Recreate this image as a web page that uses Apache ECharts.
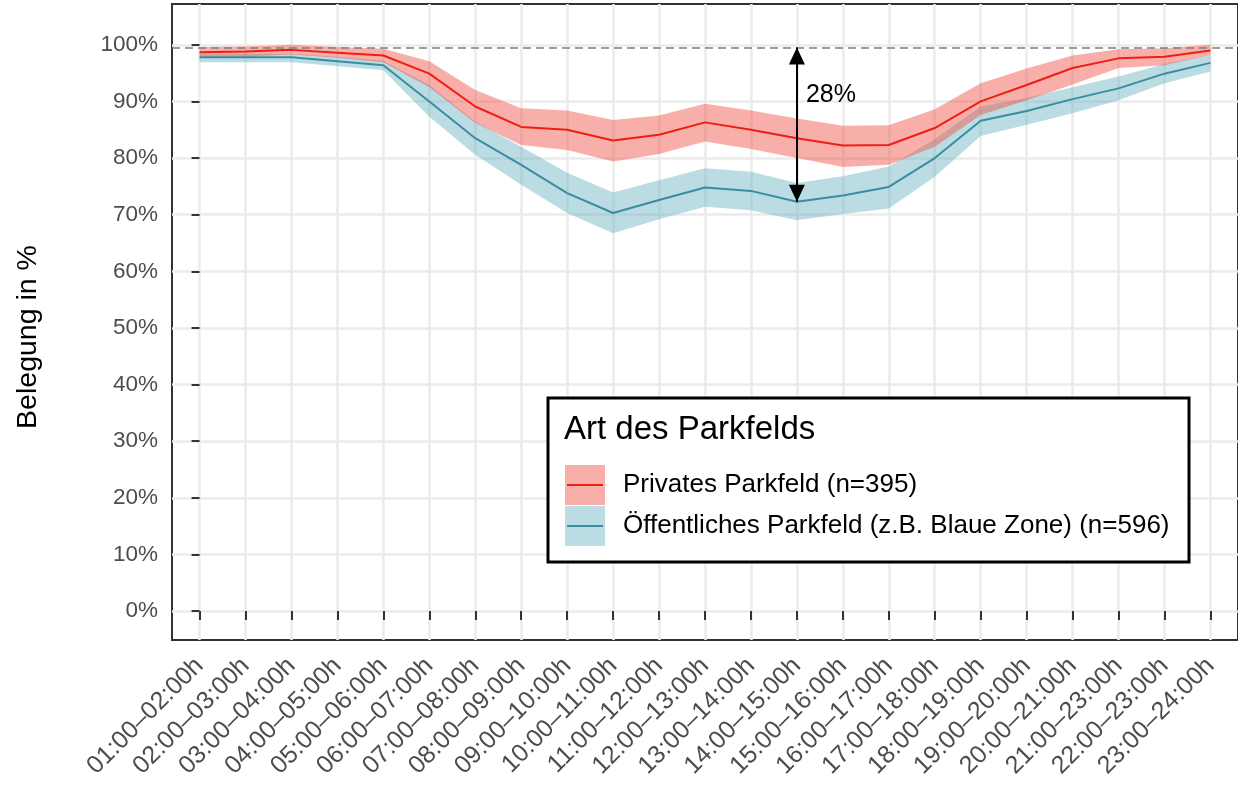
<!DOCTYPE html>
<html>
<head>
<meta charset="utf-8">
<script src="https://cdn.jsdelivr.net/npm/echarts@6/dist/echarts.min.js"></script>
<style>
  html, body { margin: 0; padding: 0; background: #fff; }
  #main { width: 1238px; height: 786px; }
</style>
</head>
<body>
<div id="main"></div>
<script>
// Zeitfenster (x-Achse)
var zeiten = ['01:00–02:00h', '02:00–03:00h', '03:00–04:00h', '04:00–05:00h', '05:00–06:00h',
    '06:00–07:00h', '07:00–08:00h', '08:00–09:00h', '09:00–10:00h', '10:00–11:00h',
    '11:00–12:00h', '12:00–13:00h', '13:00–14:00h', '14:00–15:00h', '15:00–16:00h',
    '16:00–17:00h', '17:00–18:00h', '18:00–19:00h', '19:00–20:00h', '20:00–21:00h',
    '21:00–23:00h', '22:00–23:00h', '23:00–24:00h'];

// Privates Parkfeld: Mittelwert und Band
var privat_mittel = [98.7, 98.8, 99.1, 98.6, 98.1, 94.9, 89.1, 85.5, 85.0, 83.1, 84.1, 86.3,
    85.0, 83.5, 82.2, 82.3, 85.3, 90.0, 92.9, 95.9, 97.6, 97.9, 99.0];
var privat_unten = [97.9, 97.9, 98.3, 97.7, 96.9, 92.5, 86.2, 82.3, 81.4, 79.4, 80.7, 82.9,
    81.6, 80.0, 78.4, 78.8, 82.0, 87.6, 90.2, 93.0, 95.9, 96.4, 98.2];
var privat_oben = [99.6, 99.7, 100.0, 99.6, 99.3, 97.1, 92.0, 88.8, 88.4, 86.7, 87.5, 89.6,
    88.4, 87.0, 85.7, 85.8, 88.6, 93.2, 95.8, 98.1, 99.2, 99.4, 100.0];

// Öffentliches Parkfeld: Mittelwert und Band
var oeff_mittel = [97.8, 97.8, 97.8, 97.1, 96.4, 90.0, 83.5, 78.8, 73.8, 70.3, 72.6, 74.8,
    74.2, 72.3, 73.4, 74.9, 80.0, 86.6, 88.3, 90.4, 92.3, 94.9, 96.8];
var oeff_unten = [96.9, 96.9, 96.9, 96.2, 95.5, 87.3, 80.6, 75.3, 70.3, 66.7, 69.2, 71.4,
    70.8, 69.0, 70.1, 71.1, 76.7, 83.9, 85.9, 87.9, 90.2, 93.2, 95.3];
var oeff_oben = [98.4, 98.4, 98.4, 97.9, 97.2, 92.9, 86.4, 82.0, 77.4, 73.9, 76.1, 78.2,
    77.6, 75.6, 76.8, 78.5, 83.3, 89.1, 90.6, 92.5, 94.4, 96.6, 98.2];

var y_ticks = [0, 10, 20, 30, 40, 50, 60, 70, 80, 90, 100];
var referenz = 99.5;     // gestrichelte Linie
var pfeil_index = 13;    // 14:00–15:00h
var differenz_text = '28%';

var name_privat = 'Privates Parkfeld (n=395)';
var name_oeff = 'Öffentliches Parkfeld (z.B. Blaue Zone) (n=596)';

var x_idx = zeiten.map(function (z, i) { return i; });
function paare(werte) { return werte.map(function (v, i) { return [i, v]; }); }

// Band als Polygon: oben hin, unten zurück
function band(oben, unten, farbe) {
    return function (params, api) {
        var pts = [];
        for (var i = 0; i < oben.length; i++) pts.push(api.coord([i, oben[i]]));
        for (var j = unten.length - 1; j >= 0; j--) pts.push(api.coord([j, unten[j]]));
        return { type: 'polygon', shape: { points: pts }, style: { fill: farbe } };
    };
}

var font = 'Liberation Sans, Arial, sans-serif';
var rot_linie = '#EF1E12', rot_band = 'rgba(239,78,66,0.45)';
var blau_linie = '#3A8DA0', blau_band = 'rgba(104,177,193,0.45)';
// Pfeilspitze: Spitze in der Mitte der Box, damit sie genau am Endpunkt sitzt
var spitze = 'path://M0,-17 L0,-17 M0,0 L8,17 L-8,17 Z';

var myChart = echarts.init(document.getElementById('main'));
var option = {
    animation: false,
    textStyle: { fontFamily: font },
    grid: {
        left: 172, right: -6, top: 4, bottom: 146,
        show: true, borderColor: '#333333', borderWidth: 2, backgroundColor: '#fff'
    },
    xAxis: {
        type: 'value',
        min: -0.6, max: 22.6,
        axisLine: { show: false },
        axisTick: { show: true, length: 9, lineStyle: { color: '#333', width: 2 }, customValues: x_idx },
        axisLabel: {
            customValues: x_idx,
            rotate: 45, margin: 22,
            fontSize: 25, color: '#4D4D4D', fontFamily: font,
            formatter: function (v) { return zeiten[Math.round(v)]; }
        },
        splitLine: { show: true, lineStyle: { color: '#EBEBEB', width: 2.5 } }
    },
    yAxis: {
        type: 'value',
        min: -5.1, max: 107.2,
        axisLine: { show: false },
        axisTick: { show: true, length: 8, lineStyle: { color: '#333', width: 2 }, customValues: y_ticks },
        axisLabel: {
            customValues: y_ticks,
            margin: 14, fontSize: 22.5, color: '#4D4D4D', fontFamily: font,
            formatter: '{value}%'
        },
        splitLine: { show: true, lineStyle: { color: '#EBEBEB', width: 2.5 } }
    },
    legend: {
        z: 10,
        orient: 'vertical',
        left: 565, top: 465,
        itemWidth: 40, itemHeight: 40, itemGap: 1,
        padding: 0,
        selectedMode: false,
        textStyle: { fontSize: 26, color: '#000', fontFamily: font, padding: [0, 0, 0, 13] },
        data: [
            { name: name_privat, icon: 'rect', itemStyle: { color: rot_band, borderWidth: 0 } },
            { name: name_oeff, icon: 'rect', itemStyle: { color: blau_band, borderWidth: 0 } }
        ]
    },
    graphic: [
        {
            type: 'rect', z: 5,
            shape: { x: 548, y: 398, width: 641, height: 164 },
            style: { fill: '#fff', stroke: '#000', lineWidth: 3 }
        },
        {
            type: 'text', z: 20, left: 564, top: 413,
            style: { text: 'Art des Parkfelds', fontSize: 33, fill: '#000', fontFamily: font }
        },
        {
            type: 'line', z: 30,
            shape: { x1: 567, y1: 485, x2: 603, y2: 485 },
            style: { stroke: rot_linie, lineWidth: 2 }
        },
        {
            type: 'line', z: 30,
            shape: { x1: 567, y1: 526, x2: 603, y2: 526 },
            style: { stroke: blau_linie, lineWidth: 2 }
        },
        {
            type: 'text', z: 20, x: 28, y: 337, rotation: Math.PI / 2,
            style: {
                text: 'Belegung in %', fontSize: 28.5, fill: '#000', fontFamily: font,
                align: 'center', verticalAlign: 'middle'
            }
        }
    ],
    series: [
        {
            name: name_oeff, type: 'custom', coordinateSystem: 'cartesian2d',
            data: [[0, oeff_mittel[0]]], encode: { x: 0, y: 1 },
            itemStyle: { color: blau_band },
            renderItem: band(oeff_oben, oeff_unten, blau_band), silent: true
        },
        {
            name: name_privat, type: 'custom', coordinateSystem: 'cartesian2d',
            data: [[0, privat_mittel[0]]], encode: { x: 0, y: 1 },
            itemStyle: { color: rot_band },
            renderItem: band(privat_oben, privat_unten, rot_band), silent: true
        },
        {
            name: '_oeff_linie', type: 'line', data: paare(oeff_mittel),
            symbol: 'none', lineStyle: { color: blau_linie, width: 2 }
        },
        {
            name: '_privat_linie', type: 'line', data: paare(privat_mittel),
            symbol: 'none', lineStyle: { color: rot_linie, width: 2 },
            markLine: {
                silent: true,
                symbol: 'none',
                label: { show: false },
                lineStyle: { color: '#7F7F7F', type: [8, 5], width: 1.5 },
                data: [{ yAxis: referenz }]
            }
        },
        {
            name: '_pfeil', type: 'line', data: [],
            markLine: {
                silent: true,
                symbol: [spitze, spitze],
                symbolSize: [16, 34],
                label: { show: false },
                lineStyle: { color: '#000', type: 'solid', width: 2 },
                itemStyle: { color: '#000' },
                data: [[
                    { coord: [pfeil_index, referenz] },
                    { coord: [pfeil_index, oeff_mittel[pfeil_index]] }
                ]]
            },
            markPoint: {
                silent: true,
                symbol: 'circle', symbolSize: 0,
                label: {
                    show: true, position: 'right', distance: 9,
                    formatter: differenz_text, fontSize: 25, color: '#000', fontFamily: font
                },
                data: [{ coord: [pfeil_index, 91.2] }]
            }
        }
    ]
};
myChart.setOption(option);
</script>
</body>
</html>
